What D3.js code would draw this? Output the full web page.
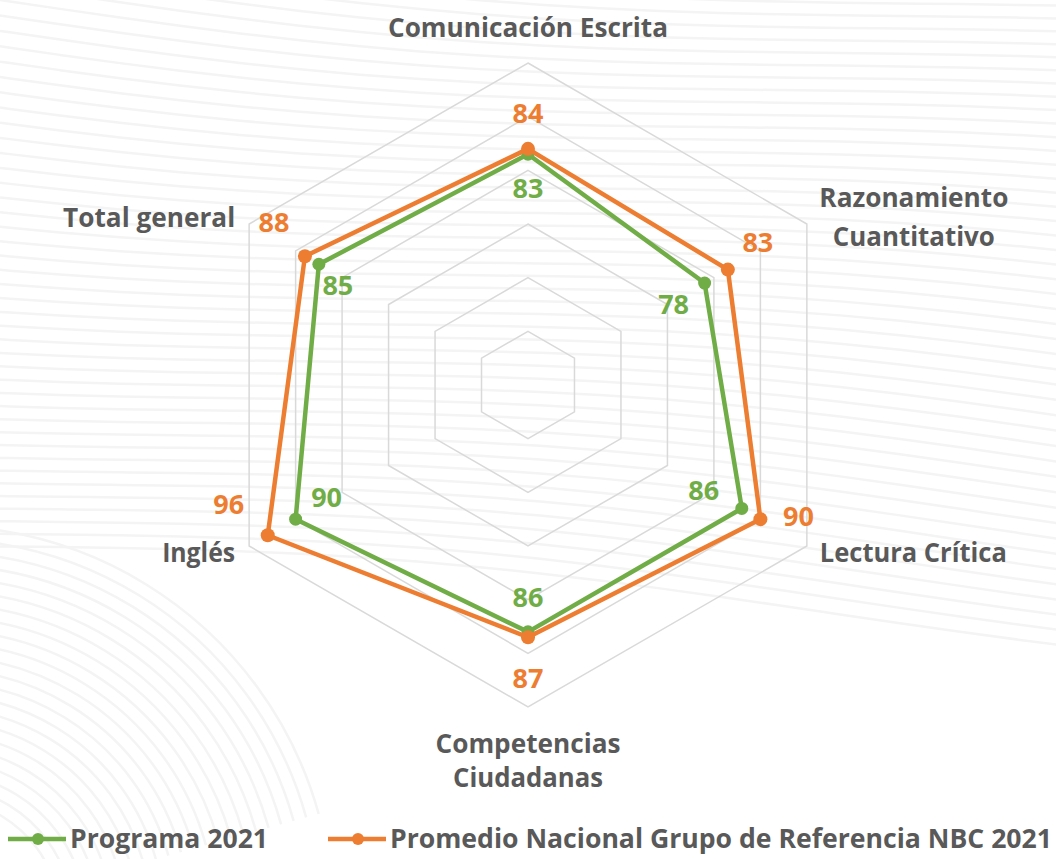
<!DOCTYPE html>
<html>
<head>
<meta charset="utf-8">
<script src="https://cdn.jsdelivr.net/npm/d3@7"></script>
<style>
  html, body { margin: 0; padding: 0; background: #fff; }
  svg { display: block; }
  text { font-family: "Open Sans", "Noto Sans", sans-serif; font-weight: 700; }
</style>
</head>
<body>
<div id="chart"></div>
<script>
// data
const axisLabels = [["Comunicación Escrita"], ["Razonamiento", "Cuantitativo"], ["Lectura Crítica"],
  ["Competencias", "Ciudadanas"], ["Inglés"], ["Total general"]];
const programa = [83, 78, 86, 86, 90, 85];
const promedio = [84, 83, 90, 87, 96, 88];
const seriesNames = ["Programa 2021", "Promedio Nacional Grupo de Referencia NBC 2021"];
const ringTicks = [50, 60, 70, 80, 90, 100];
const scaleMin = 40, scaleMax = 100;

const width = 1056, height = 859;
const cx = 528, cy = 385, R = 322;
const green = "#70AD47", orange = "#ED7D31", grey = "#595959";

// label placement (offset from point/vertex to text baseline centre)
const valueOffsets = [
  [[0, 44], [-31, 31], [-38, -8], [0, -25], [31, -12.5], [19, 31]],
  [[0, -26], [30, -18], [38, 7], [0, 51], [-39, -21], [-31, -24.5]]
];
const axisLayout = [
  {dx: 0, anchor: "middle", dy: [-26.3], len: [280]},
  {dx: 107, anchor: "middle", dy: [-17.3, 22], len: [189, 162]},
  {dx: 13, anchor: "start", dy: [15.7], len: [187]},
  {dx: 0, anchor: "middle", dy: [46, 80], len: [185, 150]},
  {dx: -14, anchor: "end", dy: [15.7], len: [73]},
  {dx: -14, anchor: "end", dy: [2.7], len: [172]}
];

const svg = d3.select("#chart").append("svg")
  .attr("width", width)
  .attr("height", height);

// faint wavy background
const bg = svg.append("g").attr("fill", "none").attr("stroke", "#f4f4f4").attr("stroke-width", 2.5);
const wave = d3.line().curve(d3.curveBasis);
for (let k = -10; k < 40; k++) {
  const pts = d3.range(0, width + 60, 60).map(x => [x, k * 14 + 18 * Math.sin(x / 260 + k * 0.08) + x * 0.08]);
  bg.append("path").attr("d", wave(pts));
}
for (let k = 0; k < 22; k++) {
  bg.append("path")
    .attr("d", d3.arc()({innerRadius: 120 + k * 13, outerRadius: 120 + k * 13, startAngle: -0.2, endAngle: 1.3}))
    .attr("transform", `translate(-60,${height + 60})`);
}

const r = d3.scaleLinear().domain([scaleMin, scaleMax]).range([0, R]);
const angle = i => i * 2 * Math.PI / axisLabels.length;
const pos = (v, i) => [cx + r(v) * Math.sin(angle(i)), cy - r(v) * Math.cos(angle(i))];

const g = svg.append("g");

// grid hexagons
const radial = d3.lineRadial().curve(d3.curveLinearClosed);
g.append("g")
  .attr("transform", `translate(${cx},${cy})`)
  .selectAll("path")
  .data(ringTicks)
  .join("path")
    .attr("d", t => radial(axisLabels.map((d, i) => [angle(i), r(t)])))
    .attr("fill", "none")
    .attr("stroke", "#d9d9d9")
    .attr("stroke-width", 1.5);

// series
const series = [
  {name: seriesNames[0], values: programa, color: green, rad: 6.5},
  {name: seriesNames[1], values: promedio, color: orange, rad: 7}
];
const line = d3.line().curve(d3.curveLinearClosed);

series.forEach((s, si) => {
  const pts = s.values.map((v, i) => pos(v, i));
  g.append("path")
    .attr("d", line(pts))
    .attr("fill", "none")
    .attr("stroke", s.color)
    .attr("stroke-width", 4.5)
    .attr("stroke-linejoin", "round");
  g.append("g").selectAll("circle")
    .data(pts)
    .join("circle")
      .attr("cx", d => d[0])
      .attr("cy", d => d[1])
      .attr("r", s.rad)
      .attr("fill", s.color);
});

// value labels
series.forEach((s, si) => {
  g.append("g").selectAll("text")
    .data(s.values)
    .join("text")
      .attr("x", (v, i) => pos(v, i)[0] + valueOffsets[si][i][0])
      .attr("y", (v, i) => pos(v, i)[1] + valueOffsets[si][i][1])
      .attr("text-anchor", "middle")
      .attr("font-size", 27)
      .attr("fill", s.color)
      .text(v => v);
});

// axis labels
axisLabels.forEach((lines, i) => {
  const [vx, vy] = pos(scaleMax, i);
  const lay = axisLayout[i];
  lines.forEach((txt, li) => {
    g.append("text")
      .attr("x", vx + lay.dx)
      .attr("y", vy + lay.dy[li])
      .attr("text-anchor", lay.anchor)
      .attr("font-size", 26)
      .attr("fill", grey)
      .attr("textLength", lay.len[li])
      .attr("lengthAdjust", "spacingAndGlyphs")
      .text(txt);
  });
});

// legend
const legend = svg.append("g");
const legendItems = [
  {x: 8, color: green, textLen: 198},
  {x: 328, color: orange, textLen: 662}
];
legendItems.forEach((it, i) => {
  const lg = legend.append("g").attr("transform", `translate(${it.x},839)`);
  lg.append("line").attr("x1", 0).attr("x2", 58).attr("stroke", it.color).attr("stroke-width", 4.5);
  lg.append("circle").attr("cx", 30).attr("r", 6).attr("fill", it.color);
  lg.append("text")
    .attr("x", 62)
    .attr("y", 9)
    .attr("font-size", 26)
    .attr("fill", grey)
    .attr("textLength", it.textLen)
    .attr("lengthAdjust", "spacingAndGlyphs")
    .text(seriesNames[i]);
});
</script>
</body>
</html>
